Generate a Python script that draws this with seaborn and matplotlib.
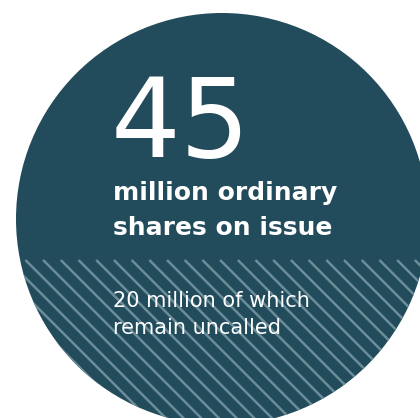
import numpy as np
import matplotlib
matplotlib.use("Agg")
import matplotlib.pyplot as plt
import seaborn as sns
from matplotlib.patches import Circle

# DATA
total_shares = 45          # million ordinary shares on issue
uncalled_shares = 20       # million of which remain uncalled
headline_lines = ["million ordinary", "shares on issue"]
sub_lines = [f"{uncalled_shares} million of which", "remain uncalled"]

sns.set_theme(style="white")
plt.rcParams["font.family"] = ["DejaVu Sans"]

W, H = 420, 418
fig = plt.figure(figsize=(W / 100, H / 100), dpi=100)
ax = fig.add_axes([0, 0, 1, 1])
ax.set_xlim(0, W)
ax.set_ylim(H, 0)
ax.axis("off")

dark = "#224b5b"
hatch_col = "#6b8d99"

# circle
cx, cy, r = 222, 219, 206
circ = Circle((cx, cy), r, facecolor=dark, edgecolor="none", zorder=1)
ax.add_patch(circ)

# hatched lower part (uncalled share)
hatch_top = 260
clip_circ = Circle((cx, cy), r, transform=ax.transData)
step = 17.7
x0 = -10
for k in range(-30, 40):
    xs_ = x0 + k * step
    ln, = ax.plot([xs_, xs_ + 200], [hatch_top, hatch_top + 200],
                  color=hatch_col, lw=1.8, zorder=2, solid_capstyle="butt")
    ln.set_clip_path(clip_circ)

# texts
ax.text(111, 157, str(total_shares), color="white", fontsize=79,
        ha="left", va="baseline", zorder=3)
ax.text(113, 200, headline_lines[0], color="white", fontsize=18,
        fontweight="bold", ha="left", va="baseline", zorder=3)
ax.text(113, 235, headline_lines[1], color="white", fontsize=18,
        fontweight="bold", ha="left", va="baseline", zorder=3)
ax.text(113, 307, sub_lines[0], color="white", fontsize=15,
        ha="left", va="baseline", zorder=3)
ax.text(113, 334, sub_lines[1], color="white", fontsize=15,
        ha="left", va="baseline", zorder=3)

fig.savefig("out.png", dpi=100, facecolor="white")
